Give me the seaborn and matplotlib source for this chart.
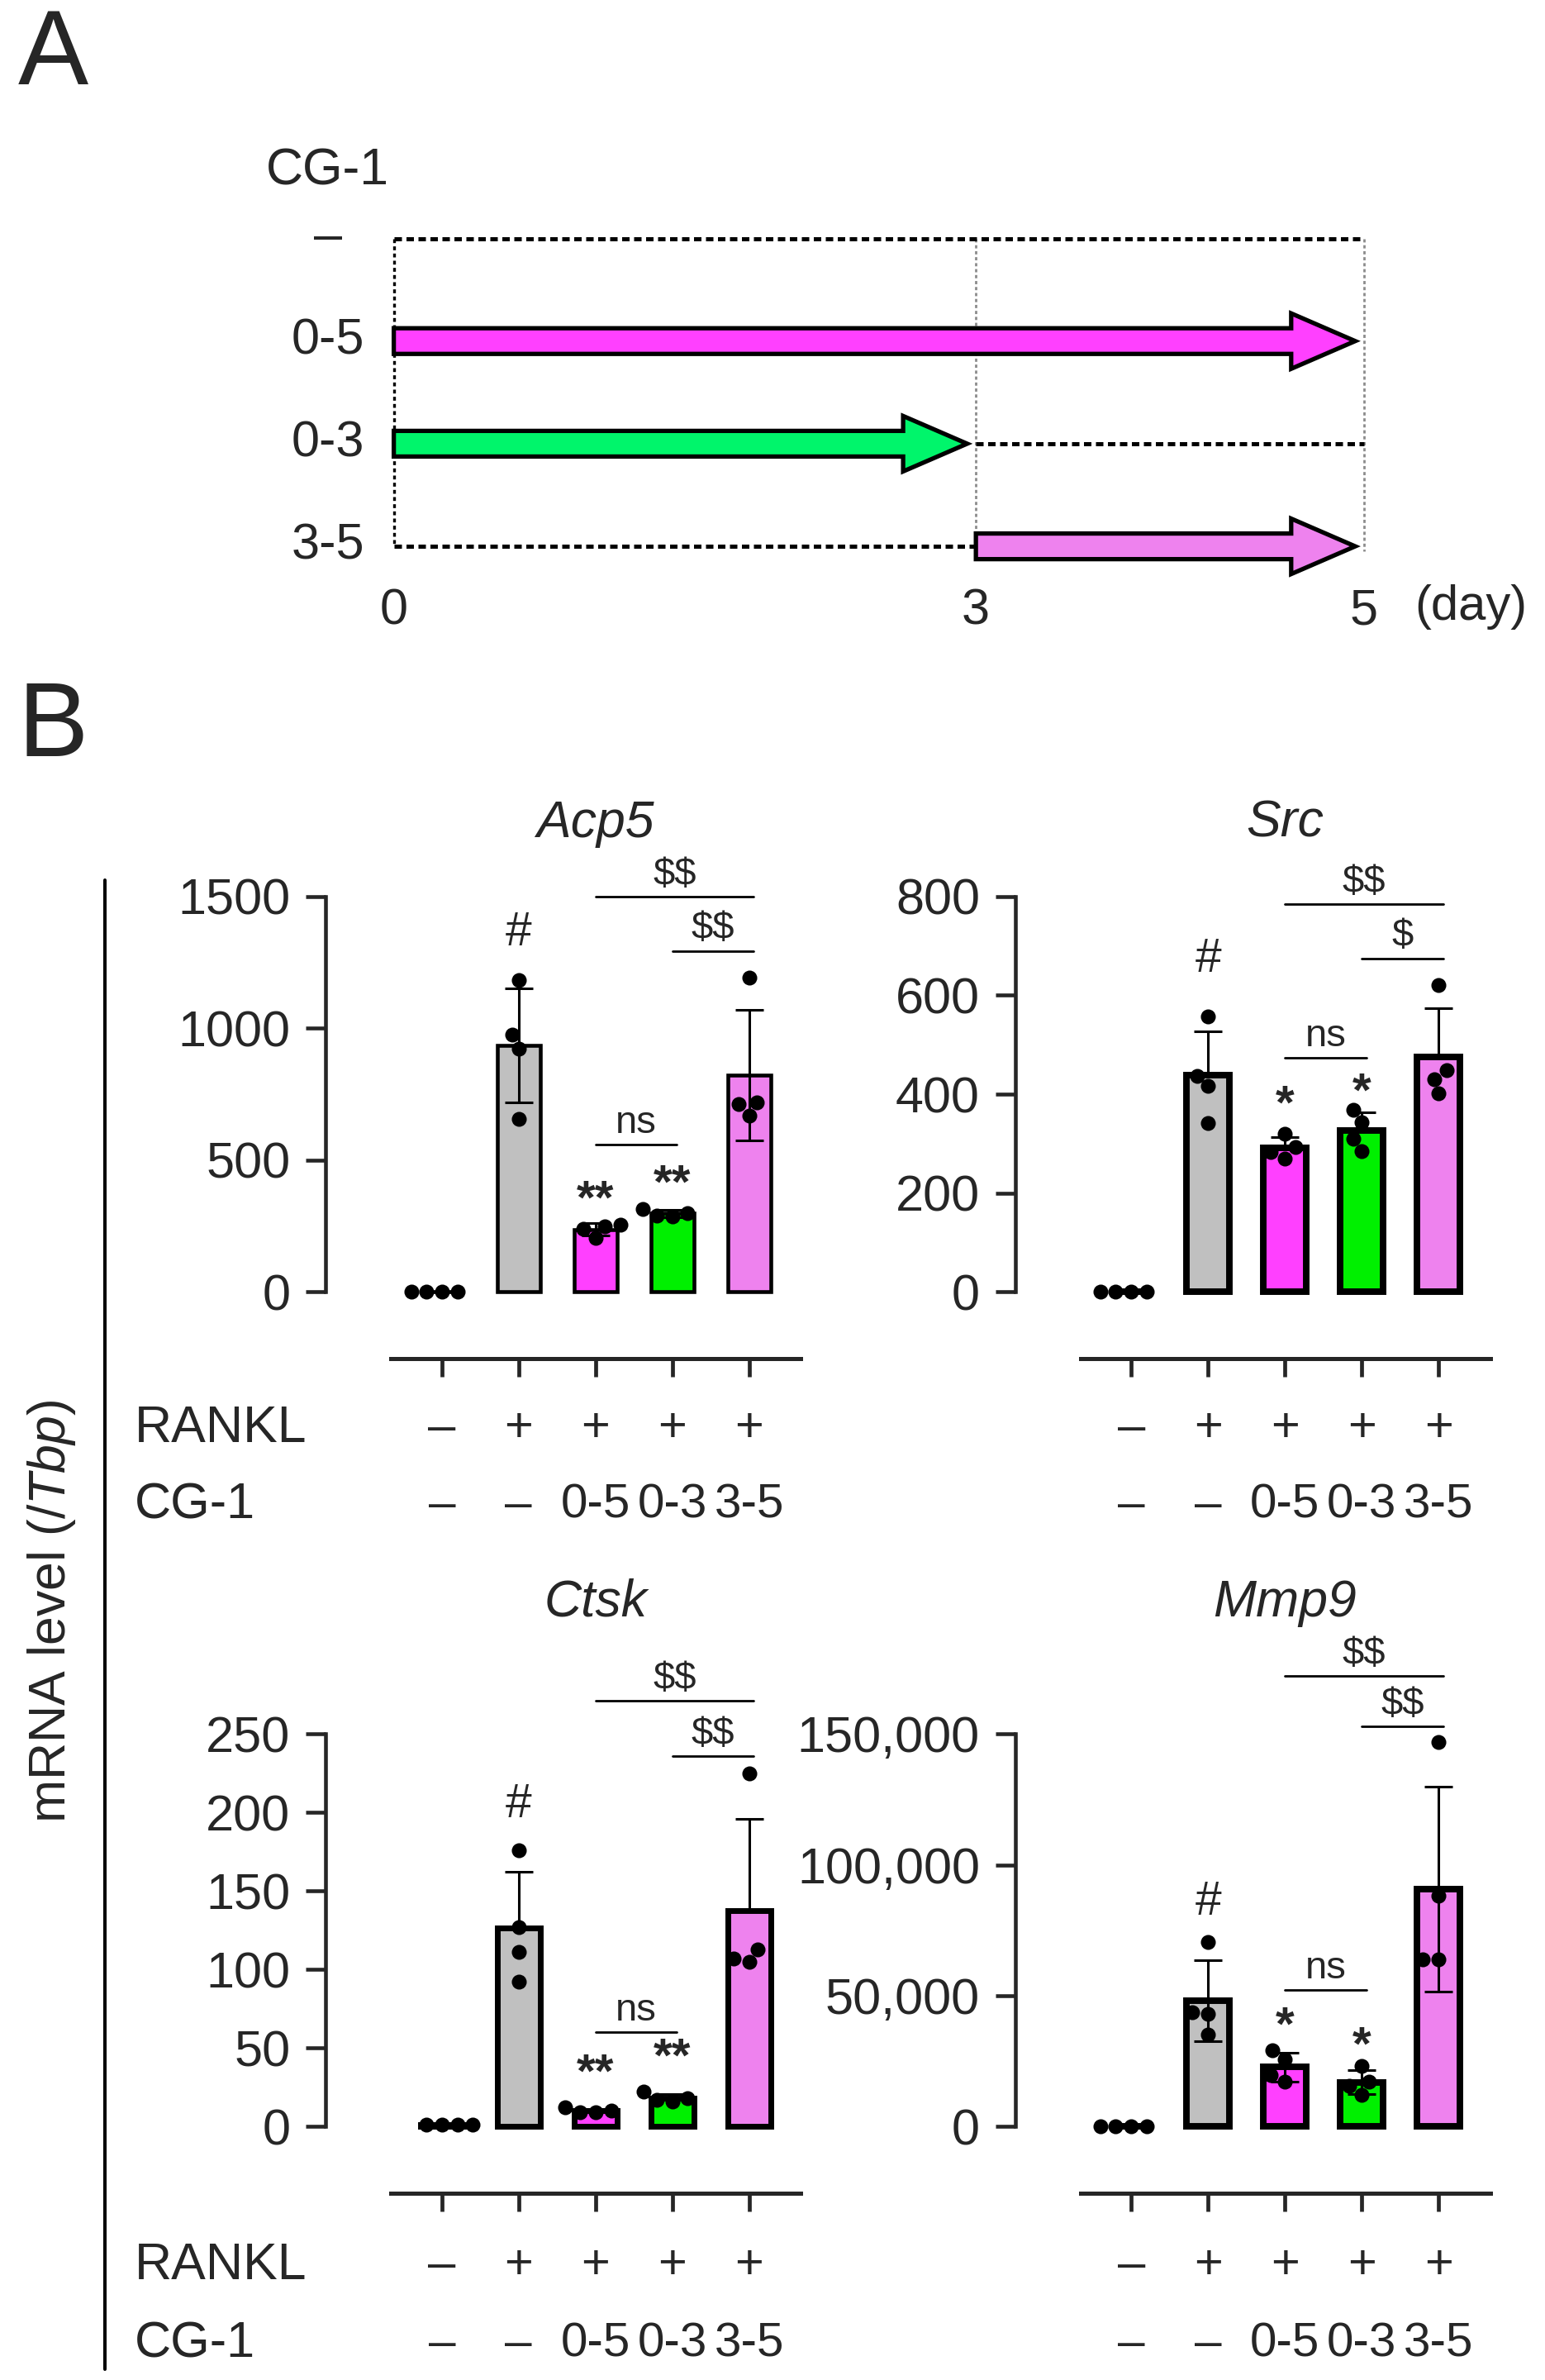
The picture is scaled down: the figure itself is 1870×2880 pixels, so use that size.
import numpy as np
import pandas as pd
import seaborn as sns
import matplotlib.pyplot as plt
from matplotlib.patches import FancyArrow
from matplotlib.lines import Line2D
from matplotlib.transforms import blended_transform_factory

sns.set_style('ticks')
plt.rcParams['font.family'] = ['Liberation Sans', 'DejaVu Sans']
plt.rcParams['mathtext.fontset'] = 'custom'
plt.rcParams['mathtext.rm'] = 'Liberation Sans'
plt.rcParams['mathtext.it'] = 'Liberation Sans:italic'

# ---- panel A: CG-1 treatment schedule (days) ----
schedule_labels = ['–', '0-5', '0-3', '3-5']
schedule_start = [None, 0, 0, 3]
schedule_end = [None, 5, 3, 5]
arrow_colors = [None, '#FF40FF', '#00F56B', '#EE82EE']
day_ticks = [0, 3, 5]

# ---- panel B: mRNA level (/Tbp), 4 replicates per group ----
groups = ['ctrl', 'RANKL', '0-5', '0-3', '3-5']
rankl_row = ['–', '+', '+', '+', '+']
cg1_row = ['–', '–', '0-5', '0-3', '3-5']
bar_colors = ['#C0C0C0', '#C0C0C0', '#FF40FF', '#00F000', '#EE82EE']

acp5 = [[1.0, 0.9, 1.1, 1.0], [1183, 975, 923, 656], [255, 250, 240, 205],
        [300, 315, 290, 285], [1193, 719, 670, 711]]
src = [[1.0, 0.9, 1.1, 1.0], [557, 437, 416, 342], [320, 293, 283, 270],
       [368, 343, 310, 285], [620, 449, 430, 401]]
ctsk = [[1.0, 0.9, 1.1, 1.0], [176, 127, 111, 92], [12, 10, 9, 9],
        [22, 18, 17, 16], [225, 113, 105, 107]]
mmp9 = [[1.0, 0.9, 1.1, 1.0], [70600, 43600, 43000, 35000], [29000, 25500, 19500, 17000],
        [23000, 17000, 15500, 12000], [147000, 88200, 64000, 64000]]

acp5_ticks = [0, 500, 1000, 1500]
src_ticks = [0, 200, 400, 600, 800]
ctsk_ticks = [0, 50, 100, 150, 200, 250]
mmp9_ticks = [0, 50000, 100000, 150000]

# significance marks: '#' vs control, stars vs RANKL, brackets between CG-1 groups
acp5_hash, acp5_stars, acp5_star_y = 1362, ['**', '**'], [392, 452]
acp5_brackets = [(2, 3, 'ns', 559), (2, 4, '$$', 1500), (3, 4, '$$', 1294)]
src_hash, src_stars, src_star_y = 673, ['*', '*'], [401, 427]
src_brackets = [(2, 3, 'ns', 473), (2, 4, '$$', 784), (3, 4, '$', 675)]
ctsk_hash, ctsk_stars, ctsk_star_y = 205, ['**', '**'], [41, 51]
ctsk_brackets = [(2, 3, 'ns', 60), (2, 4, '$$', 271), (3, 4, '$$', 236)]
mmp9_hash, mmp9_stars, mmp9_star_y = 85600, ['*', '*'], [42600, 35000]
mmp9_brackets = [(2, 3, 'ns', 52200), (2, 4, '$$', 172200), (3, 4, '$$', 153000)]

W, H = 1024, 1577  # layout grid (reference px / 1.826)
fig = plt.figure(figsize=(18.7, 28.8), dpi=100)
fig.patch.set_facecolor('white')

# ================= Panel A =================
axA = fig.add_axes([261 / W, 1 - 362 / H, 643 / W, 204 / H])
axA.set_xlim(0, 5)
axA.set_ylim(3, 0)
for s in axA.spines.values():
    s.set_visible(False)
axA.set_yticks([])
axA.set_xticks(day_ticks, [str(d) for d in day_ticks])
axA.tick_params(axis='x', length=0, pad=36, labelsize=44)
axA.text(5.55, 3.59, '(day)', ha='center', va='center', fontsize=43)

lab_tr = blended_transform_factory(axA.transAxes, axA.transData)
axA.text(-0.068, -0.66, 'CG-1', transform=lab_tr, ha='center', va='center', fontsize=45)
for i, lab in enumerate(schedule_labels):
    axA.text(-0.068, i, lab, transform=lab_tr, ha='center', va='center', fontsize=44)

axA.vlines(0, 0, 3, color='black', lw=2.4, linestyles=(0, (1.4, 1.2)), clip_on=False)
axA.vlines(day_ticks[1:], 0, 3.05, color='#8C8C8C', lw=2.0, linestyles=(0, (1.4, 1.2)),
           clip_on=False)

for i in range(len(schedule_labels)):
    s, e = schedule_start[i], schedule_end[i]
    if s is None:
        gaps = [(0, 5)]
    else:
        gaps = [g for g in [(0, s), (e, 5)] if g[1] > g[0]]
    for g0, g1 in gaps:
        axA.plot([g0, g1], [i, i], color='black', lw=3.6, ls=(0, (1.8, 1.1)),
                 solid_capstyle='butt', clip_on=False, zorder=2)
    if s is not None:
        arr = FancyArrow(s, i, (e - s) - 0.045, 0, width=0.25, head_width=0.54,
                         head_length=0.33, length_includes_head=True,
                         facecolor=arrow_colors[i], edgecolor='black', linewidth=3.8,
                         joinstyle='miter', clip_on=False, zorder=3)
        axA.add_patch(arr)

fig.text(35 / W, 1 - 38 / H, 'A', ha='center', va='center', fontsize=92)
fig.text(35 / W, 1 - 483 / H, 'B', ha='center', va='center', fontsize=92)

# ================= Panel B =================
col_left = [216, 673]
rows = [dict(top=594, bottom=856, rankl=-0.345, cg1=-0.54, title=1.185),
        dict(top=1149, bottom=1409, rankl=-0.355, cg1=-0.555, title=1.335)]

panels = [
    dict(gene='Acp5', vals=acp5, ticks=acp5_ticks, r=0, c=0, both=True, elw=3.3,
         hash=acp5_hash, stars=acp5_stars, star_y=acp5_star_y, brackets=acp5_brackets),
    dict(gene='Src', vals=src, ticks=src_ticks, r=0, c=1, both=False, elw=5.7,
         hash=src_hash, stars=src_stars, star_y=src_star_y, brackets=src_brackets),
    dict(gene='Ctsk', vals=ctsk, ticks=ctsk_ticks, r=1, c=0, both=False, elw=5.0,
         hash=ctsk_hash, stars=ctsk_stars, star_y=ctsk_star_y, brackets=ctsk_brackets),
    dict(gene='Mmp9', vals=mmp9, ticks=mmp9_ticks, r=1, c=1, both=True, elw=5.7,
         hash=mmp9_hash, stars=mmp9_stars, star_y=mmp9_star_y, brackets=mmp9_brackets),
]

palette = dict(zip(groups, bar_colors))

for p in panels:
    row = rows[p['r']]
    ax = fig.add_axes([col_left[p['c']] / W, 1 - row['bottom'] / H, 314.6 / W,
                       (row['bottom'] - row['top']) / H])
    df = pd.DataFrame({'group': np.repeat(groups, [len(v) for v in p['vals']]),
                       'value': np.concatenate(p['vals'])})
    sns.barplot(data=df, x='group', y='value', order=groups, hue='group', hue_order=groups,
                palette=palette, saturation=1, errorbar=None, width=0.56, edgecolor='black',
                linewidth=p['elw'], legend=False, ax=ax, zorder=2)
    stats = df.groupby('group', sort=False)['value'].agg(['mean', 'std']).reindex(groups)
    lower = stats['std'] if p['both'] else np.zeros(len(groups))
    ax.errorbar(np.arange(len(groups)), stats['mean'], yerr=[lower, stats['std']],
                fmt='none', ecolor='black', elinewidth=2.2, capsize=12, capthick=2.2, zorder=3)
    sns.swarmplot(data=df, x='group', y='value', order=groups, color='black', size=13,
                  ax=ax, zorder=4)

    ymax = p['ticks'][-1]
    ax.set_xlim(-1.51, 4.67)
    ax.set_ylim(0, ymax)
    ax.set_xlabel('')
    ax.set_ylabel('')
    ax.spines['top'].set_visible(False)
    ax.spines['right'].set_visible(False)
    ax.spines['left'].set_bounds(0, ymax)
    ax.spines['left'].set_linewidth(3.3)
    ax.spines['bottom'].set_position(('outward', 58))
    ax.spines['bottom'].set_bounds(-0.66, 4.67)
    ax.spines['bottom'].set_linewidth(3.6)
    ax.set_xticks(range(len(groups)), [''] * len(groups))
    ax.tick_params(axis='x', length=15.8, width=3.4, direction='out')
    ax.set_yticks(p['ticks'], [f'{t:,}' if ymax > 10000 else str(t) for t in p['ticks']])
    ax.tick_params(axis='y', length=17, width=3.3, pad=14, labelsize=44)
    for art in ax.patches + ax.collections + ax.lines:
        art.set_clip_on(False)

    tr = ax.get_xaxis_transform()
    ax.text(2, row['title'], p['gene'], transform=tr, ha='center', va='center',
            fontsize=45, fontstyle='italic')
    for i in range(len(groups)):
        ax.text(i, row['rankl'], rankl_row[i], transform=tr, ha='center', va='center', fontsize=43)
        ax.text(i, row['cg1'], cg1_row[i], transform=tr, ha='center', va='center', fontsize=42)
    if p['c'] == 0:
        ftr = blended_transform_factory(fig.transFigure, ax.transAxes)
        ax.text(89 / W, row['rankl'], 'RANKL', transform=ftr, ha='left', va='center', fontsize=45)
        ax.text(89 / W, row['cg1'], 'CG-1', transform=ftr, ha='left', va='center', fontsize=44)

    ax.annotate('#', (1, p['hash']), ha='center', va='center', fontsize=41,
                annotation_clip=False)
    for k, (s, y) in enumerate(zip(p['stars'], p['star_y'])):
        ax.annotate(s, (2 + k, y), xytext=(0, -11), textcoords='offset points',
                    ha='center', va='center', fontsize=42, fontweight='bold',
                    annotation_clip=False)
    for g0, g1, lab, y in p['brackets']:
        ax.plot([g0, g1 + 0.06], [y, y], color='black', lw=2.0, clip_on=False)
        ax.annotate(lab, ((g0 + g1 + 0.06) / 2, y), xytext=(0, 3), textcoords='offset points',
                    ha='center', va='bottom', fontsize=34, annotation_clip=False,
                    parse_math=False)

fig.add_artist(Line2D([69.6 / W, 69.6 / W], [1 - 583 / H, 1 - 1570 / H],
                      transform=fig.transFigure, color='black', lw=2.9))
fig.text(34 / W, 1 - 1068 / H, r'mRNA level (/$\mathit{Tbp}$)', rotation=90,
         ha='center', va='center', fontsize=45)

fig.savefig('out.png', dpi=100, facecolor='white')
